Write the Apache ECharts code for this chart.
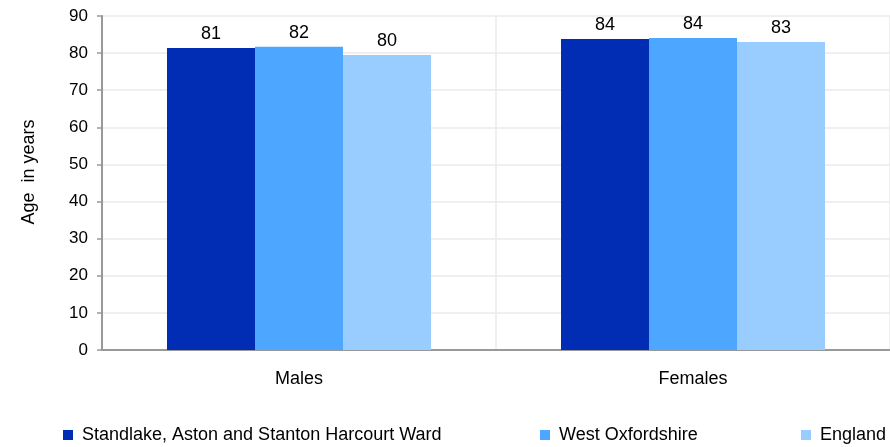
<!DOCTYPE html>
<html><head><meta charset="utf-8">
<script src="https://cdn.jsdelivr.net/npm/echarts@6/dist/echarts.min.js"></script>
<style>html,body{margin:0;padding:0;background:#fff}#c{width:890px;height:447px}</style>
</head><body><div id="c"></div>
<script>
const categories = ["Males", "Females"];
const seriesNames = ["Standlake, Aston and Stanton Harcourt Ward", "West Oxfordshire", "England"];
const standlake = [81.4, 83.8];
const westOxon = [81.7, 84.1];
const england = [79.5, 83.0];
const colors = ["#002db3", "#4da6ff", "#99ccff"];
const font = "Liberation Sans, Arial, sans-serif";
const chart = echarts.init(document.getElementById('c'));
const values = [standlake, westOxon, england];
chart.setOption({
  animation: false,
  textStyle: {fontFamily: font},
  grid: {left: 102, right: -3, top: 16, bottom: 97},
  legend: [0,1,2].map(i => ({
    data: [seriesNames[i]], top: 426, left: [63, 540, 801][i], padding: 0,
    icon: 'rect', itemWidth: 10, itemHeight: 10, itemGap: 8,
    textStyle: {fontFamily: font, fontSize: 18, color: '#000', padding: [0,0,0,4]}
  })),
  xAxis: {
    type: 'category', data: categories,
    axisLine: {lineStyle: {color: '#999', width: 2}},
    axisTick: {show: false},
    splitLine: {show: true, lineStyle: {color: '#eaeaea', width: 1.5}},
    axisLabel: {fontSize: 18, color: '#000', margin: 20, fontFamily: font}
  },
  yAxis: {
    type: 'value', min: 0, max: 90, interval: 10,
    name: 'Age  in years', nameLocation: 'middle', nameGap: 64, nameRotate: 90,
    nameTextStyle: {fontSize: 18, color: '#000', fontFamily: font, padding: [0,0,0,22]},
    axisLine: {show: true, lineStyle: {color: '#999', width: 2}},
    axisTick: {show: true, length: 5, lineStyle: {color: '#999', width: 1.5}},
    splitLine: {lineStyle: {color: '#eaeaea', width: 1.5}},
    axisLabel: {fontSize: 17, color: '#000', margin: 14, fontFamily: font}
  },
  series: seriesNames.map((n, i) => ({
    name: n, type: 'bar', data: values[i], barWidth: 88, barGap: '0%',
    itemStyle: {color: colors[i]},
    label: {show: true, position: 'top', fontSize: 18, color: '#000', fontFamily: font,
      distance: 5, formatter: p => Math.round(p.value)}
  }))
});
</script></body></html>
